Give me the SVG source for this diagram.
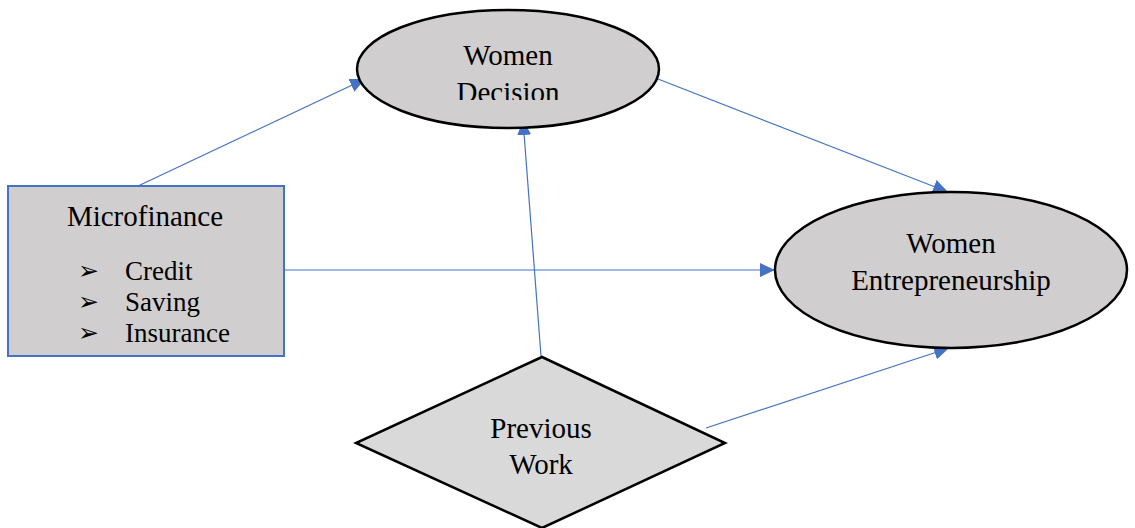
<svg xmlns="http://www.w3.org/2000/svg" width="1135" height="528" viewBox="0 0 1135 528">
<style>
.t{font-family:"Liberation Serif","Times New Roman",serif;font-size:29px;fill:#000;text-anchor:middle}
.i{font-family:"Liberation Serif","Times New Roman",serif;font-size:27px;fill:#000}
.b{font-family:"DejaVu Sans",sans-serif;font-size:25px;fill:#000}
.node{fill:#D0CECE;stroke:#000;stroke-width:2.5}
.c{stroke:#4472C4;stroke-width:1.2;fill:none;marker-end:url(#ah)}
</style>
<defs>
<marker id="ah" markerUnits="userSpaceOnUse" markerWidth="16" markerHeight="14" refX="15" refY="7" orient="auto">
<path d="M0,0 L15,7 L0,14 Z" fill="#4472C4"/>
</marker>
<clipPath id="wdclip"><rect x="380" y="30" width="260" height="70"/></clipPath>
</defs>
<rect width="1135" height="528" fill="#fff"/>
<g id="connectors">
<line class="c" x1="138" y1="186" x2="365" y2="79"/>
<line class="c" x1="640" y1="72" x2="948" y2="192"/>
<line class="c" x1="274" y1="270" x2="775" y2="270"/>
<line class="c" x1="541" y1="356" x2="523" y2="120"/>
<line class="c" x1="706" y1="428" x2="949" y2="348"/>
</g>
<g id="women-decision">
<ellipse class="node" cx="508" cy="69" rx="151" ry="59"/>
<g clip-path="url(#wdclip)">
<text class="t" x="508" y="65">Women</text>
<text class="t" x="508" y="102">Decision</text>
</g>
</g>
<g id="microfinance">
<rect x="8" y="186" width="276" height="170" fill="#D0CECE" stroke="#4472C4" stroke-width="2"/>
<text class="t" x="145" y="226">Microfinance</text>
<text class="b" x="78" y="279">➢</text>
<text class="i" x="125" y="280">Credit</text>
<text class="b" x="78" y="310">➢</text>
<text class="i" x="125" y="311">Saving</text>
<text class="b" x="78" y="341">➢</text>
<text class="i" x="125" y="342">Insurance</text>
</g>
<g id="women-entrepreneurship">
<ellipse class="node" cx="951" cy="270" rx="176" ry="78"/>
<text class="t" x="951" y="253">Women</text>
<text class="t" x="951" y="290">Entrepreneurship</text>
</g>
<g id="previous-work">
<polygon points="542,357 725,443 542,528 356,443" fill="#D9D9D9" stroke="#000" stroke-width="2.5"/>
<text class="t" x="541" y="438">Previous</text>
<text class="t" x="541" y="474">Work</text>
</g>
</svg>
